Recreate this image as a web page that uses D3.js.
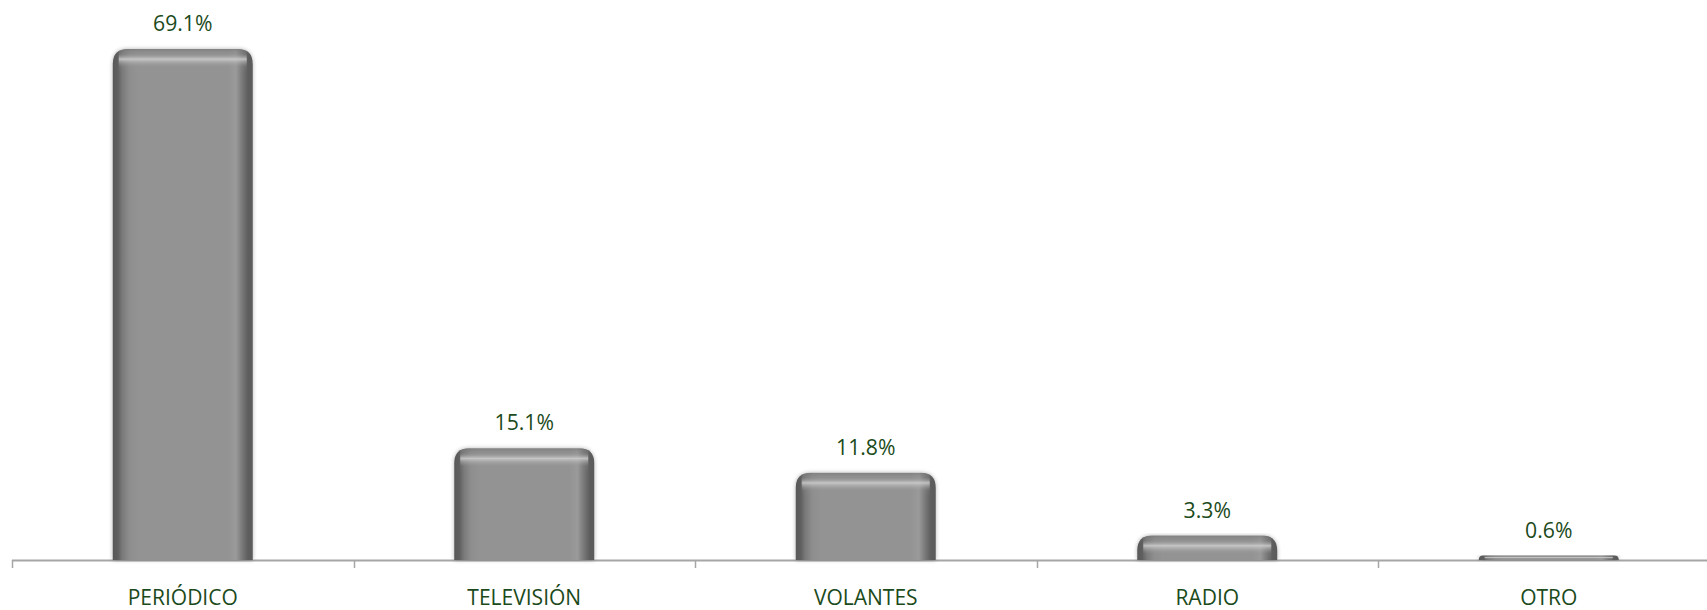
<!DOCTYPE html>
<html>
<head>
<meta charset="utf-8">
<script src="https://cdn.jsdelivr.net/npm/d3@7"></script>
<style>
html,body{margin:0;padding:0;background:#fff;}
svg{display:block;}
</style>
</head>
<body>
<svg id="chart" width="1707" height="610"></svg>
<script>
const categories = ["PERIÓDICO", "TELEVISIÓN", "VOLANTES", "RADIO", "OTRO"];
const values = [69.1, 15.1, 11.8, 3.3, 0.6];
const valueLabels = ["69.1%", "15.1%", "11.8%", "3.3%", "0.6%"];

const W = 1707, H = 610;
const svg = d3.select("#chart");
const baseY = 560;
const x = d3.scaleBand().domain(categories).range([12, 12 + 5 * 341.5]).paddingInner(0.59).paddingOuter(0.295);
const y = d3.scaleLinear().domain([0, 70]).range([baseY, baseY - 70 * 7.395]);

const defs = svg.append("defs");
const hg = defs.append("linearGradient").attr("id", "hgrad").attr("x1", 0).attr("x2", 1).attr("y1", 0).attr("y2", 0);
[[0, "#585858"], [0.035, "#5e5e5e"], [0.07, "#7a7a7a"], [0.12, "#8e8e8e"], [0.18, "#939393"], [0.82, "#939393"], [0.88, "#9a9a9a"], [0.92, "#7c7c7c"], [0.965, "#5e5e5e"], [1, "#5a5a5a"]]
  .forEach(([o, c]) => hg.append("stop").attr("offset", o).attr("stop-color", c));
const vg = defs.append("linearGradient").attr("id", "vgrad").attr("x1", 0).attr("x2", 0).attr("y1", 0).attr("y2", 1);
[[0, "#707070", 0.5], [0.2, "#8a8a8a", 0.3], [0.42, "#cfcfcf", 0.85], [0.55, "#bdbdbd", 0.5], [0.75, "#969696", 0.1], [1, "#969696", 0]]
  .forEach(([o, c, a]) => vg.append("stop").attr("offset", o).attr("stop-color", c).attr("stop-opacity", a));
const f = defs.append("filter").attr("id", "shadow").attr("x", "-10%").attr("y", "-10%").attr("width", "120%").attr("height", "120%");
f.append("feGaussianBlur").attr("in", "SourceAlpha").attr("stdDeviation", 2).attr("result", "b");
f.append("feOffset").attr("in", "b").attr("dx", 0).attr("dy", 0).attr("result", "o");
f.append("feComponentTransfer").attr("in", "o").attr("result", "s").append("feFuncA").attr("type", "linear").attr("slope", 0.3);
const fm = f.append("feMerge");
fm.append("feMergeNode").attr("in", "s");
fm.append("feMergeNode").attr("in", "SourceGraphic");

function barPath(x0, top, w, bottom) {
  const h = bottom - top;
  const r = Math.min(15, h, w / 2);
  return `M${x0},${bottom} L${x0},${top + r} Q${x0},${top} ${x0 + r},${top} L${x0 + w - r},${top} Q${x0 + w},${top} ${x0 + w},${top + r} L${x0 + w},${bottom} Z`;
}

const data = categories.map((c, i) => ({ c, v: values[i], l: valueLabels[i], i }));

// axis line
svg.append("line").attr("x1", 12).attr("x2", W).attr("y1", baseY + 0.5).attr("y2", baseY + 0.5)
  .attr("stroke", "#a6a6a6").attr("stroke-width", 2);
// ticks
const tickXs = d3.range(categories.length + 1).map(i => 12 + i * x.step());
svg.selectAll(".tick").data(tickXs).enter().append("line")
  .attr("x1", d => Math.round(d) + 0.5).attr("x2", d => Math.round(d) + 0.5)
  .attr("y1", baseY).attr("y2", baseY + 8).attr("stroke", "#a6a6a6").attr("stroke-width", 1.5);

const g = svg.selectAll(".bar").data(data).enter().append("g").attr("class", "bar");
g.each(function (d) {
  const gg = d3.select(this);
  const x0 = x(d.c), w = x.bandwidth(), top = y(d.v);
  const p = barPath(x0, top, w, baseY);
  defs.append("clipPath").attr("id", "clip" + d.i).append("path").attr("d", p);
  gg.append("path").attr("d", p).attr("fill", "url(#hgrad)").attr("filter", "url(#shadow)");
  const hh = Math.min(24, baseY - top);
  gg.append("rect").attr("x", x0 + 6).attr("y", top).attr("width", w - 12).attr("height", hh)
    .attr("fill", "url(#vgrad)").attr("clip-path", `url(#clip${d.i})`);
});

svg.selectAll(".vlabel").data(data).enter().append("text")
  .attr("x", d => x(d.c) + x.bandwidth() / 2).attr("y", d => y(d.v) - 18)
  .attr("text-anchor", "middle").attr("font-family", "'Open Sans', sans-serif").attr("font-size", 21.2)
  .attr("fill", "#1b4a1b").text(d => d.l);

svg.selectAll(".clabel").data(data).enter().append("text")
  .attr("x", d => x(d.c) + x.bandwidth() / 2).attr("y", 605)
  .attr("text-anchor", "middle").attr("font-family", "'Open Sans', sans-serif").attr("font-size", 21)
  .attr("fill", "#1b4a1b").text(d => d.c);
</script>
</body>
</html>
